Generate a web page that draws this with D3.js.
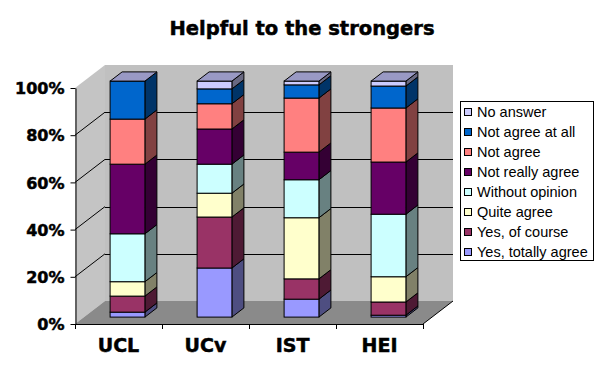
<!DOCTYPE html>
<html>
<head>
<meta charset="utf-8">
<script src="https://cdn.jsdelivr.net/npm/d3@7"></script>
<style>
    body { margin: 0; background: #fff; }
    svg { display: block; }
    .tick text, .heavy { font-family: "DejaVu Sans", sans-serif; font-weight: bold; fill: #000; stroke: #000; stroke-width: 0.5px; }
    .tick text { font-size: 16px; }
</style>
</head>
<body>
<div id="chart"></div>
<script>
// categories and series (stacked bottom -> top), values in %
let categories = ["UCL", "UCv", "IST", "HEI"];
let seriesNames = ["Yes, totally agree", "Yes, of course", "Quite agree", "Without opinion",
    "Not really agree", "Not agree", "Not agree at all", "No answer"];
let yesTotally     = [2.1, 20.8, 7.6, 0.8];
let yesOfCourse    = [6.8, 21.6, 8.6, 5.6];
let quiteAgree     = [6.1, 10.1, 25.9, 10.7];
let withoutOpinion = [20.3, 12.3, 16.1, 26.5];
let notReallyAgree = [29.5, 14.9, 11.7, 22.1];
let notAgree       = [19.1, 10.7, 22.9, 22.9];
let notAgreeAtAll  = [16.1, 6.3, 5.6, 9.3];
let noAnswer       = [0, 3.3, 1.6, 2.1];
let yTicks = [0, 20, 40, 60, 80, 100];

let seriesValues = [yesTotally, yesOfCourse, quiteAgree, withoutOpinion,
    notReallyAgree, notAgree, notAgreeAtAll, noAnswer];
let colors = ["#9999ff", "#993366", "#ffffcc", "#ccffff", "#660066", "#ff8080", "#0066cc", "#ccccff"];

// build rows for d3.stack
let rows = categories.map((c, i) => {
    let row = {cat: c};
    seriesNames.forEach((s, j) => row[s] = seriesValues[j][i]);
    return row;
});

let width = 605, height = 376;
let svg = d3.select("#chart").append("svg")
    .attr("width", width)
    .attr("height", height);

// plot frame (front plane), and depth of the 3d box
let plotL = 75, plotR = 423, plotB = 324, plotT = 88;
let depthX = 30, depthY = 23;

let x = d3.scaleBand().domain(categories).range([plotL, plotR]).padding(0);
let y = d3.scaleLinear().domain([0, 100]).range([plotB, plotT]);

// walls & floor
svg.append("polygon")
    .attr("points", [[plotL, plotT], [plotL + depthX, plotT - depthY], [plotL + depthX, plotB - depthY], [plotL, plotB]].join(" "))
    .attr("fill", "#c4c4c4");
svg.append("rect")
    .attr("x", plotL + depthX).attr("y", plotT - depthY)
    .attr("width", plotR - plotL).attr("height", plotB - plotT)
    .attr("fill", "#c0c0c0");
svg.append("polygon")
    .attr("points", [[plotL, plotB], [plotR, plotB], [plotR + depthX, plotB - depthY], [plotL + depthX, plotB - depthY]].join(" "))
    .attr("fill", "#8a8a8a");

// gridlines on back wall + diagonals on left wall
let grid = svg.append("g").attr("stroke", "#000").attr("stroke-width", 1);
yTicks.filter(t => t > 0 && t < 100).forEach(t => {
    let yy = Math.round(y(t) - depthY) + 0.5;
    grid.append("line")
        .attr("x1", plotL + depthX).attr("x2", plotR + depthX)
        .attr("y1", yy).attr("y2", yy);
    grid.append("line")
        .attr("x1", plotL).attr("y1", y(t))
        .attr("x2", plotL + depthX).attr("y2", y(t) - depthY);
});
// floor right edge
svg.append("line")
    .attr("x1", plotR).attr("y1", plotB)
    .attr("x2", plotR + depthX).attr("y2", plotB - depthY)
    .attr("stroke", "#000");

// bars
let stack = d3.stack().keys(seriesNames)(rows);
let barW = x.bandwidth() * 0.4;
let offX = depthX * 0.3, offY = depthY * 0.3;       // front face of bars
let sideX = depthX * 0.4, sideY = depthY * 0.4;     // bar depth

let bars = svg.append("g").attr("class", "bars");
stack.forEach((layer, j) => {
    layer.forEach(d => {
        if (d[1] - d[0] <= 0) return;
        let x0 = x(d.data.cat) + x.bandwidth() * 0.3 + offX;
        let y0 = y(d[0]) - offY, y1 = y(d[1]) - offY;
        // side face
        bars.append("polygon")
            .attr("points", [[x0 + barW, y1], [x0 + barW + sideX, y1 - sideY],
                [x0 + barW + sideX, y0 - sideY], [x0 + barW, y0]].join(" "))
            .attr("fill", d3.color(colors[j]).darker(1.9))
            .attr("stroke", "#000").attr("stroke-width", 1);
        // front face
        bars.append("rect")
            .attr("x", x0).attr("y", y1)
            .attr("width", barW).attr("height", y0 - y1)
            .attr("fill", colors[j])
            .attr("stroke", "#000").attr("stroke-width", 1);
    });
});
// top faces
categories.forEach(c => {
    let x0 = x(c) + x.bandwidth() * 0.3 + offX;
    let yt = y(100) - offY;
    bars.append("polygon")
        .attr("points", [[x0, yt], [x0 + sideX, yt - sideY], [x0 + barW + sideX, yt - sideY], [x0 + barW, yt]].join(" "))
        .attr("fill", "#9999c4")
        .attr("stroke", "#000").attr("stroke-width", 1);
});

// y axis
svg.append("g")
    .attr("transform", `translate(${plotL + 0.5},0)`)
    .call(d3.axisLeft(y).tickValues(yTicks).tickFormat(d => d + "%").tickSize(5).tickSizeOuter(0).tickPadding(6))
    .call(g => g.selectAll("path, line").attr("stroke", "#000"))
    .call(g => g.selectAll("text").attr("dy", "0.36em"));

// x axis line + ticks at band edges
let xAxis = svg.append("g").attr("stroke", "#000");
xAxis.append("line")
    .attr("x1", plotL).attr("x2", plotR)
    .attr("y1", plotB + 0.5).attr("y2", plotB + 0.5);
categories.concat([null]).forEach((c, i) => {
    let xx = Math.round(c ? x(c) : plotR) + 0.5;
    xAxis.append("line")
        .attr("x1", xx).attr("x2", xx)
        .attr("y1", plotB).attr("y2", plotB + 5);
});
svg.append("g").selectAll("text")
    .data(categories)
    .join("text")
    .attr("class", "heavy")
    .attr("x", d => x(d) + x.bandwidth() / 2)
    .attr("y", 352)
    .attr("text-anchor", "middle")
    .style("font-size", "19px")
    .text(d => d);

// title
svg.append("text")
    .attr("class", "heavy")
    .attr("x", 302).attr("y", 35)
    .attr("text-anchor", "middle")
    .style("font-size", "19.5px")
    .text("Helpful to the strongers");

// legend
let legend = svg.append("g").attr("transform", "translate(460,101)");
legend.append("rect")
    .attr("x", 0.5).attr("y", 0.5)
    .attr("width", 133).attr("height", 159)
    .attr("fill", "#fff").attr("stroke", "#000");
let legendItems = seriesNames.map((s, j) => ({name: s, color: colors[j]})).reverse();
let item = legend.selectAll("g.item")
    .data(legendItems)
    .join("g")
    .attr("class", "item")
    .attr("transform", (d, i) => `translate(0,${11 + i * 20})`);
item.append("rect")
    .attr("x", 4.5).attr("y", -3.5)
    .attr("width", 7).attr("height", 7)
    .attr("fill", d => d.color)
    .attr("stroke", "#000");
item.append("text")
    .attr("x", 17).attr("y", 0)
    .attr("dy", "0.36em")
    .style("font-family", "Liberation Sans, Arial, sans-serif")
    .style("font-size", "14.5px")
    .style("fill", "#000")
    .text(d => d.name);
</script>
</body>
</html>
